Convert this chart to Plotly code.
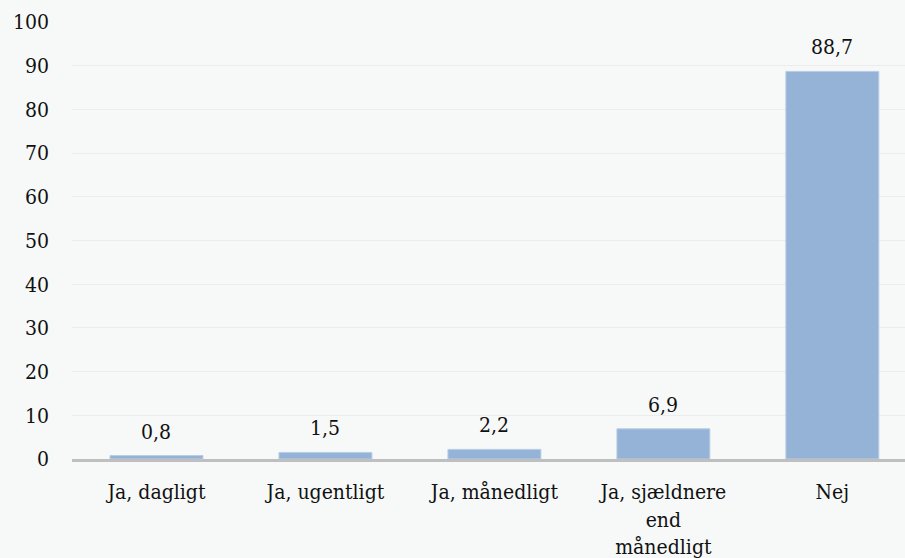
import plotly.graph_objects as go

categories = ["Ja, dagligt", "Ja, ugentligt", "Ja, månedligt", "Ja, sjældnere<br>end<br>månedligt", "Nej"]
values = [0.8, 1.5, 2.2, 6.9, 88.7]
labels = ["0,8", "1,5", "2,2", "6,9", "88,7"]
y_ticks = [0, 10, 20, 30, 40, 50, 60, 70, 80, 90, 100]

FONT = "DejaVu Serif Condensed, DejaVu Serif"
bg = "#f7f9f9"
SIZE = 21

fig = go.Figure(go.Bar(
    x=categories, y=values,
    marker=dict(color="#95b3d7", line=dict(color="#b8cce4", width=1)),
))
for c, v, t in zip(categories, values, labels):
    fig.add_annotation(x=c, y=v, text=t, showarrow=False, yanchor="bottom",
                       yshift=10, font=dict(family=FONT, size=SIZE, color="#111"))
fig.update_layout(
    width=905, height=558,
    margin=dict(l=72, r=0, t=22, b=99),
    paper_bgcolor=bg, plot_bgcolor=bg,
    bargap=0.45,
    showlegend=False,
    font=dict(family=FONT, size=SIZE, color="#111"),
)
fig.update_yaxes(range=[0, 100], tickvals=y_ticks, ticktext=[str(v) for v in y_ticks],
                 showgrid=True, gridcolor="#ebeded", gridwidth=1, zeroline=False,
                 ticks="", ticklabelstandoff=22, showline=False)
fig.update_xaxes(range=[-0.5, 4.43], showline=True, linecolor="#bfbfbf", linewidth=3,
                 ticks="", ticklabelstandoff=12)
fig.write_html("out.html", config={"displayModeBar": False},
               post_script="document.body.style.margin='0';document.body.style.overflow='hidden';")
